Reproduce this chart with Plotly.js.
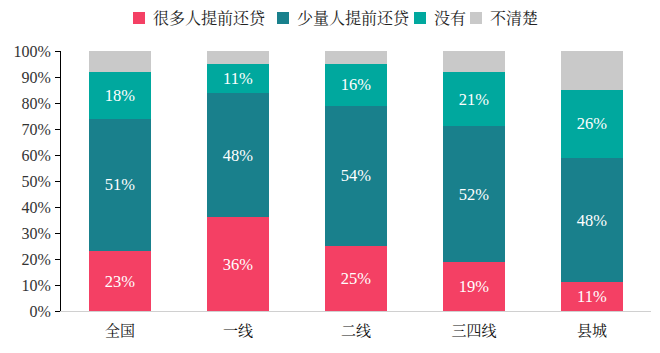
<!DOCTYPE html>
<html><head><meta charset="utf-8">
<script src="https://cdn.plot.ly/plotly-3.0.1.min.js"></script>
<style>html,body{margin:0;padding:0;background:#fff}#chart{width:660px;height:353px}</style>
</head><body><div id="chart"></div>
<script>
const categories = ['全国','一线','二线','三四线','县城'];
const many = [23, 36, 25, 19, 11];
const few = [51, 48, 54, 52, 48];
const none = [18, 11, 16, 21, 26];
const unsure = [8, 5, 5, 8, 15];
const seriesNames = ['很多人提前还贷','少量人提前还贷','没有','不清楚'];
const colors = ['#F44064','#19808C','#00A89E','#C9C9C9'];
const font = '"Liberation Serif", "Noto Serif CJK SC", "Noto Sans CJK SC", serif';
const series = [many, few, none, unsure];
const traces = series.map((v, i) => ({
  type: 'bar', x: categories, y: v, name: seriesNames[i],
  marker: {color: colors[i], line: {width: 0}},
  text: i < 3 ? v.map(d => d + '%') : v.map(() => ''),
  textposition: i < 3 ? 'inside' : 'none',
  insidetextanchor: 'middle',
  textfont: {color: '#ffffff', size: 16.5, family: font},
  hoverinfo: 'none', showlegend: false
}));
// manual legend (paper coordinates in pixels converted)
const W = 660, H = 353, mL = 61, mR = 9, mT = 51, mB = 42;
const pw = W - mL - mR, ph = H - mT - mB;
const px = x => (x - mL) / pw;
const py = y => (H - mB - y) / ph;
const legendX = [133, 277, 414, 470];
const shapes = [], annotations = [];
seriesNames.forEach((n, i) => {
  const x0 = legendX[i];
  shapes.push({type: 'rect', xref: 'paper', yref: 'paper', x0: px(x0), x1: px(x0 + 12),
    y0: py(24), y1: py(12), fillcolor: colors[i], line: {width: 0}});
  annotations.push({xref: 'paper', yref: 'paper', x: px(x0 + 18), y: py(18), xanchor: 'left',
    yanchor: 'middle', text: n, showarrow: false,
    font: {size: 16, family: font, color: '#222'}});
});
const layout = {
  width: W, height: H, barmode: 'stack', bargap: 0.475,
  margin: {l: mL, r: mR, t: mT, b: mB},
  paper_bgcolor: '#fff', plot_bgcolor: '#fff',
  font: {family: font, size: 14, color: '#222'},
  showlegend: false, shapes, annotations,
  xaxis: {type: 'category', showline: true, linecolor: '#d0d0d0', linewidth: 1,
          ticks: '', ticklabelstandoff: 6, tickfont: {size: 15, family: font, color: '#111'}, showgrid: false},
  yaxis: {range: [0, 100], dtick: 10, ticksuffix: '%', showline: true, linecolor: '#000',
          linewidth: 1, ticks: 'outside', ticklen: 5, tickcolor: '#000', showgrid: false,
          zeroline: false, ticklabelstandoff: 1, tickfont: {size: 16, family: font, color: '#333'}}
};
Plotly.newPlot('chart', traces, layout, {displayModeBar: false, staticPlot: true});
</script></body></html>
